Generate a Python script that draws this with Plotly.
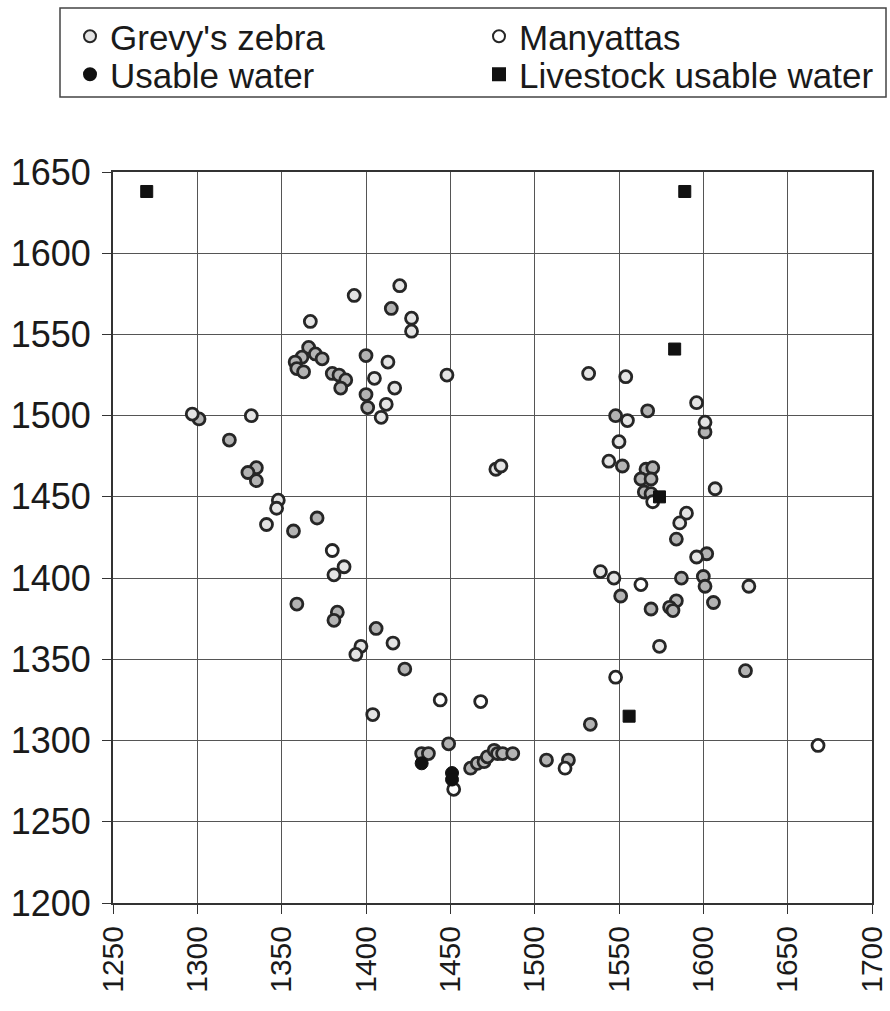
import plotly.graph_objects as go

# Grevy's zebra sightings (light, stippled markers)
zebra_light_x = [1420, 1393, 1427, 1427, 1367, 1413, 1405, 1417, 1412, 1409, 1448, 1297,
                 1332, 1532, 1554, 1596, 1555, 1601, 1550, 1544, 1607, 1590, 1586, 1596,
                 1539, 1547, 1627, 1574, 1477, 1480, 1348, 1347, 1341, 1387, 1381, 1416,
                 1397, 1394, 1404]
zebra_light_y = [1580, 1574, 1560, 1552, 1558, 1533, 1523, 1517, 1507, 1499, 1525, 1501,
                 1500, 1526, 1524, 1508, 1497, 1496, 1484, 1472, 1455, 1440, 1434, 1413,
                 1404, 1400, 1395, 1358, 1467, 1469, 1448, 1443, 1433, 1407, 1402, 1360,
                 1358, 1353, 1316]

# Grevy's zebra sightings (grey-filled markers)
zebra_grey_x = [1415, 1366, 1362, 1370, 1374, 1358, 1359, 1363, 1380, 1384, 1388, 1385,
                1400, 1400, 1401, 1301, 1567, 1548, 1601, 1552, 1566, 1570, 1563, 1569,
                1565, 1569, 1584, 1602, 1587, 1600, 1601, 1551, 1584, 1580, 1582, 1569,
                1606, 1625, 1533, 1319, 1335, 1330, 1335, 1371, 1357, 1359, 1383, 1381,
                1406, 1423, 1449, 1433, 1437, 1462, 1466, 1470, 1472, 1476, 1478, 1481,
                1487, 1507, 1520]
zebra_grey_y = [1566, 1542, 1536, 1538, 1535, 1533, 1529, 1527, 1526, 1525, 1522, 1517,
                1537, 1513, 1505, 1498, 1503, 1500, 1490, 1469, 1467, 1468, 1461, 1461,
                1453, 1452, 1424, 1415, 1400, 1401, 1395, 1389, 1386, 1382, 1380, 1381,
                1385, 1343, 1310, 1485, 1468, 1465, 1460, 1437, 1429, 1384, 1379, 1374,
                1369, 1344, 1298, 1292, 1292, 1283, 1286, 1287, 1290, 1294, 1292, 1292,
                1292, 1288, 1288]

# Manyattas
manyatta_x = [1563, 1380, 1444, 1468, 1452, 1548, 1668, 1518, 1570]
manyatta_y = [1396, 1417, 1325, 1324, 1270, 1339, 1297, 1283, 1447]

# Usable water
water_x = [1433, 1451, 1451]
water_y = [1286, 1280, 1276]

# Livestock usable water
livestock_x = [1270, 1589, 1583, 1574, 1556]
livestock_y = [1638, 1638, 1541, 1450, 1315]

x_ticks = list(range(1250, 1701, 50))
y_ticks = list(range(1200, 1651, 50))

OUTLINE = "#262626"
FONT = "Liberation Sans, Arial, sans-serif"
TEXT = "#1a1a1a"

W, H = 890, 1011
# plot area in pixels: left 113, right 872, top 172, bottom 903
PL, PR, PT, PB = 113, 872, 172, 903

fig = go.Figure()

fig.add_trace(go.Scatter(
    x=zebra_grey_x, y=zebra_grey_y, mode="markers", name="Grevy's zebra",
    showlegend=False,
    marker=dict(symbol="circle", size=12, color="#b3b3b3",
                line=dict(color=OUTLINE, width=2.8)),
))
fig.add_trace(go.Scatter(
    x=zebra_light_x, y=zebra_light_y, mode="markers", name="Grevy's zebra",
    legend="legend",
    marker=dict(symbol="circle", size=12, color="#e4e4e4",
                line=dict(color=OUTLINE, width=2.8)),
))
fig.add_trace(go.Scatter(
    x=manyatta_x, y=manyatta_y, mode="markers", name="Manyattas",
    legend="legend2",
    marker=dict(symbol="circle", size=12, color="white",
                line=dict(color=OUTLINE, width=2.8)),
))
fig.add_trace(go.Scatter(
    x=water_x, y=water_y, mode="markers", name="Usable water",
    legend="legend3",
    marker=dict(symbol="circle", size=13, color="#111111",
                line=dict(color="#111111", width=1)),
))
fig.add_trace(go.Scatter(
    x=livestock_x, y=livestock_y, mode="markers", name="Livestock usable water",
    legend="legend4",
    marker=dict(symbol="square", size=12, color="#111111",
                line=dict(color="#111111", width=1)),
))

axis_common = dict(
    showgrid=True, gridcolor="#555555", gridwidth=1,
    showline=True, linecolor="#333333", linewidth=2, mirror=True,
    ticks="outside", ticklen=9, tickcolor="#333333", tickwidth=1,
    zeroline=False, automargin=False,
)

fig.update_xaxes(
    range=[1250, 1700], tickvals=x_ticks, tickangle=-90,
    tickfont=dict(family=FONT, size=30, color=TEXT),
    ticklabelstandoff=0,
    **axis_common,
)
fig.update_yaxes(
    range=[1200, 1650], tickvals=y_ticks,
    tickfont=dict(family=FONT, size=36, color=TEXT),
    ticklabelstandoff=4,
    **axis_common,
)

# legend frame
fig.add_shape(type="rect", xref="paper", yref="paper",
              x0=(60 - PL) / (PR - PL), x1=(886 - PL) / (PR - PL),
              y0=(PB - 97) / (PB - PT), y1=(PB - 8) / (PB - PT),
              line=dict(color="#444444", width=1.5), fillcolor="rgba(0,0,0,0)")


def legend_at(left, top):
    return dict(
        xref="container", yref="container",
        x=left / W, y=1 - top / H, xanchor="left", yanchor="top",
        font=dict(family=FONT, size=35, color=TEXT),
        bgcolor="rgba(0,0,0,0)", borderwidth=0, itemsizing="constant",
    )


fig.update_layout(
    width=W, height=H,
    margin=dict(l=PL, r=W - PR, t=PT, b=H - PB, autoexpand=False),
    paper_bgcolor="white", plot_bgcolor="white",
    font=dict(family=FONT, color=TEXT),
    legend=legend_at(70, 7),
    legend2=legend_at(479, 7),
    legend3=legend_at(70, 45),
    legend4=legend_at(479, 45),
)

fig.write_html("out.html")
